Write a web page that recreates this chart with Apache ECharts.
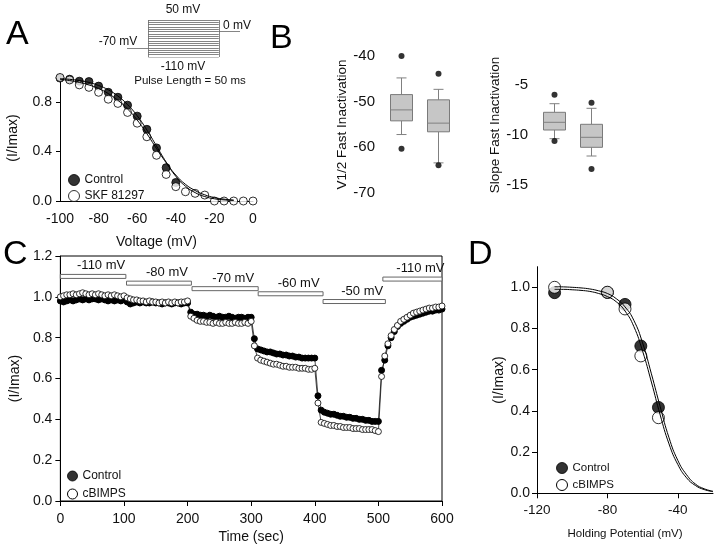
<!DOCTYPE html>
<html>
<head>
<meta charset="utf-8">
<script src="https://cdn.jsdelivr.net/npm/echarts@6/dist/echarts.min.js"></script>
<style>
  html, body { margin: 0; padding: 0; background: #fff; }
  #main { width: 720px; height: 546px; }
</style>
</head>
<body>
<div id="main"></div>
<script>
// ---- panel A : steady-state inactivation ----
const voltageA = [-100, -95, -90, -85, -80, -75, -70, -65, -60, -55, -50, -45, -40, -35, -30, -25, -20, -15, -10, -5, 0];
const controlA = [0.995, 0.986, 0.97, 0.967, 0.93, 0.88, 0.84, 0.776, 0.687, 0.58, 0.43, 0.27, 0.15];
const skfA = [1.0, 0.98, 0.94, 0.92, 0.88, 0.824, 0.79, 0.717, 0.63, 0.52, 0.37, 0.215, 0.116, 0.075, 0.062, 0.048, 0.0, 0.0, 0.0, 0.0, 0.0];
const fitVoltageA = [-100, -95, -90, -85, -80, -75, -70, -65, -60, -55, -50, -45, -40, -35, -30, -25, -20, -15, -10];
const controlFitA = [0.99, 0.985, 0.975, 0.96, 0.935, 0.9, 0.85, 0.78, 0.69, 0.575, 0.445, 0.315, 0.2, 0.12, 0.068, 0.036, 0.018, 0.009, 0.004];
const skfFitA = [0.985, 0.975, 0.96, 0.94, 0.91, 0.87, 0.815, 0.745, 0.655, 0.545, 0.425, 0.31, 0.21, 0.135, 0.085, 0.05, 0.028, 0.015, 0.008];

// pulse protocol inset
const stepLevels = [-110, -100, -90, -80, -70, -60, -50, -40, -30, -20, -10, 0, 10, 20, 30, 40, 50];
const holdLevel = -70;
const postLevel = 0;

// ---- panel B : box plots (min, Q1, median, Q3, max) ----
const boxV12 = [[-57.2, -54.2, -51.8, -48.45, -44.8], [-63.4, -56.6, -54.7, -49.6, -47.3]];
const outV12 = [[0, -40.0], [0, -60.3], [1, -43.9], [1, -63.9]];
const boxSlope = [[-10.37, -9.5, -8.73, -7.73, -6.87], [-12.1, -11.23, -10.23, -8.93, -7.33]];
const outSlope = [[0, -5.97], [0, -10.6], [1, -6.77], [1, -13.4]];

// ---- panel C : time course ----
const controlC = [
  0.98, 0.975, 0.98, 0.985, 0.98, 0.985, 0.99, 0.985, 0.99, 0.985, 0.99, 0.99, 0.985, 0.99, 0.985, 0.98, 0.985, 0.98, 0.985, 0.98, 0.985,
  0.975, 0.965, 0.97, 0.975, 0.97, 0.975, 0.97, 0.97, 0.975, 0.97, 0.97, 0.965, 0.97, 0.97, 0.965, 0.97, 0.97, 0.965, 0.97, 0.97,
  0.925, 0.915, 0.915, 0.91, 0.91, 0.905, 0.91, 0.905, 0.9, 0.905, 0.9, 0.9, 0.905, 0.9, 0.895, 0.9, 0.9, 0.895, 0.9, 0.9,
  0.795, 0.745, 0.74, 0.735, 0.73, 0.73, 0.725, 0.72, 0.72, 0.715, 0.715, 0.71, 0.71, 0.705, 0.705, 0.7, 0.7, 0.7, 0.7, 0.7,
  0.515, 0.445, 0.435, 0.43, 0.425, 0.425, 0.42, 0.415, 0.415, 0.41, 0.41, 0.405, 0.405, 0.4, 0.4, 0.395, 0.395, 0.39, 0.39, 0.39,
  0.64, 0.69, 0.76, 0.8, 0.83, 0.855, 0.87, 0.88, 0.89, 0.9, 0.905, 0.91, 0.915, 0.92, 0.925, 0.93, 0.93, 0.935, 0.935, 0.94
];
const cbimpsC = [
  1.0, 1.005, 1.01, 1.01, 1.015, 1.01, 1.015, 1.02, 1.015, 1.01, 1.015, 1.01, 1.015, 1.01, 1.005, 1.01, 1.005, 1.01, 1.005, 1.0, 1.005,
  0.995, 0.99, 0.985, 0.985, 0.98, 0.98, 0.975, 0.98, 0.975, 0.975, 0.97, 0.975, 0.97, 0.975, 0.97, 0.975, 0.97, 0.975, 0.975, 0.98,
  0.905, 0.895, 0.885, 0.88, 0.88, 0.875, 0.875, 0.87, 0.875, 0.87, 0.87, 0.875, 0.87, 0.87, 0.875, 0.87, 0.87, 0.875, 0.87, 0.88,
  0.76, 0.7, 0.69, 0.685, 0.68, 0.675, 0.67, 0.67, 0.665, 0.66, 0.66, 0.655, 0.655, 0.655, 0.65, 0.65, 0.65, 0.645, 0.645, 0.65,
  0.48, 0.385, 0.38, 0.375, 0.37, 0.37, 0.365, 0.365, 0.36, 0.36, 0.36, 0.355, 0.355, 0.355, 0.35, 0.35, 0.35, 0.35, 0.345, 0.34,
  0.61, 0.71, 0.77, 0.81, 0.84, 0.86, 0.88, 0.89, 0.9, 0.91, 0.92, 0.925, 0.93, 0.935, 0.94, 0.945, 0.945, 0.95, 0.95, 0.955
];
const sampleStepC = 5; // seconds between sweeps
const barStartC = [0, 104, 207, 311, 413, 507];
const barEndC = [103, 206, 311, 413, 511, 600];
const barLevelC = [1.10, 1.067, 1.04, 1.015, 0.977, 1.087];
const barLabelC = ['-110 mV', '-80 mV', '-70 mV', '-60 mV', '-50 mV', '-110 mV'];

// ---- panel D : availability vs holding potential ----
const controlD = [[-110, 0.974], [-80, 0.975], [-70, 0.917], [-61, 0.715], [-51, 0.417]];
const cbimpsD = [[-110, 1.0], [-80, 0.976], [-70, 0.895], [-61, 0.667], [-51, 0.367]];
const fitVoltageD = [-110, -105, -100, -95, -90, -85, -80, -75, -70, -65, -60, -55, -50, -45, -40, -35, -30, -25, -20];
const controlFitD = [1.003, 1.002, 1.0, 0.997, 0.992, 0.983, 0.97, 0.945, 0.905, 0.84, 0.73, 0.58, 0.42, 0.27, 0.16, 0.09, 0.045, 0.022, 0.01];
const cbimpsFitD = [0.99, 0.99, 0.988, 0.985, 0.98, 0.97, 0.955, 0.93, 0.885, 0.81, 0.69, 0.54, 0.38, 0.24, 0.14, 0.075, 0.038, 0.018, 0.008];

const font = 'Liberation Sans';
const txt = '#111';
const zip = (xs, ys) => ys.map((y, i) => [xs[i], y]);
const timesC = controlC.map((_, i) => i * sampleStepC);
const oneDec = v => v.toFixed(1);

const chart = echarts.init(document.getElementById('main'));

const insetLines = stepLevels.map(v => ({ coords: [[0, v], [1, v]] }));
insetLines.push({ coords: [[0, stepLevels[0]], [0, stepLevels[stepLevels.length - 1]]] });
insetLines.push({ coords: [[1, stepLevels[0]], [1, stepLevels[stepLevels.length - 1]]] });
insetLines.push({ coords: [[-0.3, holdLevel], [0, holdLevel]] });
insetLines.push({ coords: [[1, postLevel], [1.3, postLevel]] });

const axisBase = {
  axisLine: { onZero: false, lineStyle: { color: '#000', width: 1 } },
  axisTick: { lineStyle: { color: '#000' }, length: 4 },
  axisLabel: { color: txt, fontFamily: font, fontSize: 14 },
  splitLine: { show: false },
  nameTextStyle: { color: txt, fontFamily: font, fontSize: 14 }
};
const ax = o => echarts.util.merge(echarts.util.clone(axisBase), o, true);

const openDot = { color: '#fff', borderColor: '#000', borderWidth: 1 };
const fullDot = { color: '#000', borderColor: '#000', borderWidth: 1 };

// box with short whisker caps, drawn through the axis scales
function renderBox(params, api) {
  const x = api.value(0);
  const c = api.coord([x, api.value(3)]);
  const lo = api.coord([x, api.value(1)]);
  const q1 = api.coord([x, api.value(2)]);
  const q3 = api.coord([x, api.value(4)]);
  const hi = api.coord([x, api.value(5)]);
  const half = 11, cap = 5;
  const ln = (x1, y1, x2, y2) => ({ type: 'line', shape: { x1, y1, x2, y2 }, style: { stroke: '#808080', lineWidth: 1 } });
  return { type: 'group', children: [
    ln(c[0], hi[1], c[0], q3[1]),
    ln(c[0], q1[1], c[0], lo[1]),
    ln(c[0] - cap, hi[1], c[0] + cap, hi[1]),
    ln(c[0] - cap, lo[1], c[0] + cap, lo[1]),
    { type: 'rect', shape: { x: c[0] - half, y: q3[1], width: 2 * half, height: q1[1] - q3[1] },
      style: { fill: '#c6c6c6', stroke: '#7a7a7a', lineWidth: 1 } },
    ln(c[0] - half, c[1], c[0] + half, c[1])
  ] };
}
const boxData = rows => rows.map((r, i) => [i].concat(r));

const legendItems = names => names.map((n, i) => ({ name: n, itemStyle: i === 0 ? fullDot : openDot }));
const smallText = size => ({ font: size + 'px ' + font, fill: txt, align: 'center', verticalAlign: 'middle' });

const option = {
  backgroundColor: '#fff',
  animation: false,
  grid: [
    { left: 60, width: 193, top: 75, height: 126 },                 // A
    { left: 127, width: 113, top: 20, height: 37 },                 // inset
    { left: 383, width: 74, top: 56, height: 137 },                 // B1
    { left: 536, width: 74, top: 55, height: 140 },                 // B2
    { left: 58, width: 384, top: 256, height: 245, show: true, borderColor: '#000', borderWidth: 1 }, // C
    { left: 537, width: 176, top: 266.7, height: 226.6 }            // D
  ],
  xAxis: [
    ax({ gridIndex: 0, type: 'value', min: -100, max: 0, interval: 20, axisTick: { show: false },
      axisLabel: { margin: 11 },
      name: 'Voltage (mV)', nameLocation: 'middle', nameGap: 34 }),
    { gridIndex: 1, type: 'value', min: -0.3, max: 1.3, show: false },
    { gridIndex: 2, type: 'category', data: ['Control', 'SKF 81297'], show: false },
    { gridIndex: 3, type: 'category', data: ['Control', 'SKF 81297'], show: false },
    ax({ gridIndex: 4, type: 'value', min: 0, max: 600, interval: 100, axisTick: { length: 5 },
      axisLabel: { margin: 11 },
      name: 'Time (sec)', nameLocation: 'middle', nameGap: 29 }),
    ax({ gridIndex: 5, type: 'value', min: -120, max: -20, interval: 40,
      axisTick: { length: 5, customValues: [-120, -80, -40] },
      axisLabel: { customValues: [-120, -80, -40], margin: 10, fontSize: 13.5 },
      name: 'Holding Potential (mV)', nameLocation: 'middle', nameGap: 35,
      nameTextStyle: { fontSize: 11.5 } })
  ],
  yAxis: [
    ax({ gridIndex: 0, type: 'value', min: 0, max: 1.02,
      axisTick: { customValues: [0, 0.4, 0.8] }, axisLabel: { customValues: [0, 0.4, 0.8], formatter: oneDec, margin: 8 },
      name: '(I/Imax)', nameLocation: 'middle', nameGap: 40 }),
    { gridIndex: 1, type: 'value', min: -110, max: 50, show: false },
    ax({ gridIndex: 2, type: 'value', min: -70, max: -40, interval: 10,
      axisLine: { lineStyle: { color: '#888' } }, axisTick: { lineStyle: { color: '#888' } },
      axisLabel: { fontSize: 15 },
      name: 'V1/2 Fast Inactivation', nameLocation: 'middle', nameGap: 29, nameTextStyle: { fontSize: 13.5 } }),
    ax({ gridIndex: 3, type: 'value', min: -16, max: -2,
      axisLine: { lineStyle: { color: '#888' } }, axisTick: { lineStyle: { color: '#888' }, customValues: [-15, -10, -5] },
      axisLabel: { customValues: [-15, -10, -5], fontSize: 15 },
      name: 'Slope Fast Inactivation', nameLocation: 'middle', nameGap: 27, nameTextStyle: { fontSize: 13.5 } }),
    ax({ gridIndex: 4, type: 'value', min: 0, max: 1.2, interval: 0.2, axisTick: { length: 5 },
      axisLabel: { formatter: oneDec, margin: 8 },
      name: '(I/Imax)', nameLocation: 'middle', nameGap: 36 }),
    ax({ gridIndex: 5, type: 'value', min: 0, max: 1.1, axisTick: { length: 5, customValues: [0, 0.2, 0.4, 0.6, 0.8, 1.0] },
      axisLabel: { customValues: [0, 0.2, 0.4, 0.6, 0.8, 1.0], formatter: oneDec, margin: 7 },
      name: '(I/Imax)', nameLocation: 'middle', nameGap: 27 })
  ],
  legend: [
    { left: 63, top: 169, orient: 'vertical', itemWidth: 11, itemHeight: 11, itemGap: 4, icon: 'circle',
      data: legendItems(['Control', 'SKF 81297']), textStyle: { fontFamily: font, fontSize: 12, color: txt }, selectedMode: false },
    { left: 62, top: 465, orient: 'vertical', itemWidth: 10, itemHeight: 10, itemGap: 6, icon: 'circle',
      data: legendItems(['Control', 'cBIMPS']), textStyle: { fontFamily: font, fontSize: 12, color: txt }, selectedMode: false },
    { left: 551, top: 457, orient: 'vertical', itemWidth: 11, itemHeight: 11, itemGap: 5, icon: 'circle',
      data: legendItems(['Control', 'cBIMPS']), textStyle: { fontFamily: font, fontSize: 11.5, color: txt }, selectedMode: false }
  ],
  graphic: [
    { type: 'text', left: 6, top: 18, style: { text: 'A', font: '34px ' + font, fill: '#000' } },
    { type: 'text', left: 270, top: 22, style: { text: 'B', font: '34px ' + font, fill: '#000' } },
    { type: 'text', left: 3, top: 238, style: { text: 'C', font: '34px ' + font, fill: '#000' } },
    { type: 'text', left: 468, top: 238, style: { text: 'D', font: '34px ' + font, fill: '#000' } },
    { type: 'text', x: 183, y: 10, style: Object.assign({ text: '50 mV' }, smallText(12)) },
    { type: 'text', x: 237, y: 26, style: Object.assign({ text: '0 mV' }, smallText(12)) },
    { type: 'text', x: 118, y: 42, style: Object.assign({ text: '-70 mV' }, smallText(12)) },
    { type: 'text', x: 183, y: 67, style: Object.assign({ text: '-110 mV' }, smallText(12)) },
    { type: 'text', x: 190, y: 81, style: Object.assign({ text: 'Pulse Length = 50 ms' }, smallText(11.5)) }
  ],
  series: [
    // A
    { type: 'line', xAxisIndex: 0, yAxisIndex: 0, data: zip(fitVoltageA, controlFitA), smooth: true, showSymbol: false,
      lineStyle: { color: '#000', width: 1 }, silent: true },
    { type: 'line', xAxisIndex: 0, yAxisIndex: 0, data: zip(fitVoltageA, skfFitA), smooth: true, showSymbol: false,
      lineStyle: { color: '#000', width: 1 }, silent: true },
    { name: 'Control', type: 'scatter', xAxisIndex: 0, yAxisIndex: 0, data: zip(voltageA, controlA), symbolSize: 8, itemStyle: fullDot },
    { name: 'SKF 81297', type: 'scatter', xAxisIndex: 0, yAxisIndex: 0, data: zip(voltageA, skfA), symbolSize: 8, itemStyle: openDot },
    // inset
    { type: 'lines', coordinateSystem: 'cartesian2d', xAxisIndex: 1, yAxisIndex: 1, data: insetLines,
      lineStyle: { color: '#666', width: 0.8, opacity: 1 }, silent: true },
    // B1
    { type: 'custom', xAxisIndex: 2, yAxisIndex: 2, data: boxData(boxV12), renderItem: renderBox, silent: true,
      encode: { x: 0, y: [1, 2, 3, 4, 5] } },
    { type: 'scatter', xAxisIndex: 2, yAxisIndex: 2, data: outV12, symbolSize: 6, itemStyle: { color: '#000' } },
    // B2
    { type: 'custom', xAxisIndex: 3, yAxisIndex: 3, data: boxData(boxSlope), renderItem: renderBox, silent: true,
      encode: { x: 0, y: [1, 2, 3, 4, 5] } },
    { type: 'scatter', xAxisIndex: 3, yAxisIndex: 3, data: outSlope, symbolSize: 6, itemStyle: { color: '#000' } },
    // C
    { type: 'custom', xAxisIndex: 4, yAxisIndex: 4, clip: false, silent: true,
      data: barStartC.map((s, i) => [s, barEndC[i], barLevelC[i]]),
      renderItem: (params, api) => {
        const s = api.coord([api.value(0), api.value(2)]);
        const e = api.coord([api.value(1), api.value(2)]);
        return { type: 'group', children: [
          { type: 'rect', shape: { x: s[0], y: s[1] - 2, width: e[0] - s[0], height: 4 },
            style: { fill: '#fff', stroke: '#666', lineWidth: 1 } },
          { type: 'text', x: (s[0] + e[0]) / 2 + 8, y: s[1] - 4,
            style: { text: barLabelC[params.dataIndex], font: '13px ' + font, fill: txt, align: 'center', verticalAlign: 'bottom' } }
        ] };
      } },
    { name: 'Control', type: 'line', xAxisIndex: 4, yAxisIndex: 4, data: zip(timesC, controlC), symbol: 'circle', symbolSize: 6,
      itemStyle: fullDot, lineStyle: { color: '#000', width: 0.7 } },
    { name: 'cBIMPS', type: 'line', xAxisIndex: 4, yAxisIndex: 4, data: zip(timesC, cbimpsC), symbol: 'circle', symbolSize: 6,
      itemStyle: { color: '#fff', borderColor: '#000', borderWidth: 0.8 }, lineStyle: { color: '#000', width: 0.7 } },
    // D
    { type: 'line', xAxisIndex: 5, yAxisIndex: 5, data: zip(fitVoltageD, controlFitD), smooth: true, showSymbol: false,
      lineStyle: { color: '#000', width: 1 }, silent: true },
    { type: 'line', xAxisIndex: 5, yAxisIndex: 5, data: zip(fitVoltageD, cbimpsFitD), smooth: true, showSymbol: false,
      lineStyle: { color: '#000', width: 1 }, silent: true },
    { name: 'Control', type: 'scatter', xAxisIndex: 5, yAxisIndex: 5, data: controlD, symbolSize: 12, itemStyle: fullDot },
    { name: 'cBIMPS', type: 'scatter', xAxisIndex: 5, yAxisIndex: 5, data: cbimpsD, symbolSize: 12, itemStyle: openDot }
  ]
};

chart.setOption(option);
</script>
</body>
</html>
